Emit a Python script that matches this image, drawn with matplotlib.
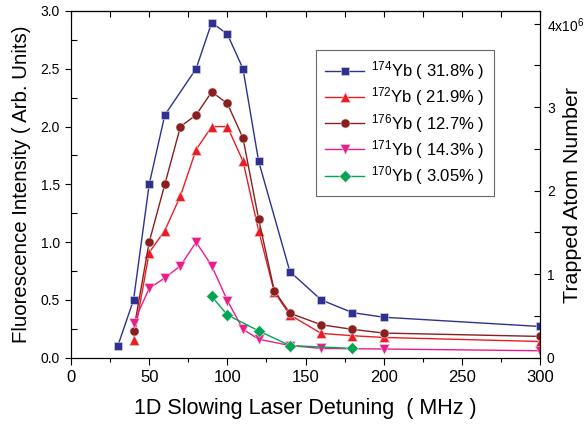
import matplotlib
matplotlib.use("Agg")
import matplotlib.pyplot as plt
from matplotlib.ticker import MultipleLocator, FixedLocator

plt.rcParams['font.family'] = ['Liberation Sans', 'DejaVu Sans']
plt.rcParams['mathtext.fontset'] = 'custom'
plt.rcParams['mathtext.rm'] = 'Liberation Sans'
plt.rcParams['mathtext.it'] = 'Liberation Sans'

# data
x174 = [30, 40, 50, 60, 80, 90, 100, 110, 120, 140, 160, 180, 200, 300]
y174 = [0.105, 0.5, 1.5, 2.1, 2.5, 2.9, 2.8, 2.5, 1.7, 0.745, 0.5, 0.39, 0.35, 0.27]
x172 = [40, 50, 60, 70, 80, 90, 100, 110, 120, 130, 140, 160, 180, 200, 300]
y172 = [0.155, 0.91, 1.1, 1.4, 1.8, 2.0, 2.0, 1.7, 1.1, 0.57, 0.37, 0.21, 0.19, 0.175, 0.14]
x176 = [40, 50, 60, 70, 80, 90, 100, 110, 120, 130, 140, 160, 180, 200, 300]
y176 = [0.23, 1.0, 1.5, 2.0, 2.1, 2.3, 2.2, 1.9, 1.2, 0.58, 0.385, 0.285, 0.245, 0.213, 0.184]
x171 = [40, 50, 60, 70, 80, 90, 100, 110, 120, 140, 160, 200, 300]
y171 = [0.3, 0.6, 0.69, 0.795, 1.0, 0.795, 0.494, 0.246, 0.16, 0.105, 0.08, 0.075, 0.06]
x170 = [90, 100, 120, 140, 180]
y170 = [0.53, 0.37, 0.232, 0.105, 0.08]

labels = [r'$^{174}$Yb ( 31.8% )', r'$^{172}$Yb ( 21.9% )', r'$^{176}$Yb ( 12.7% )',
          r'$^{171}$Yb ( 14.3% )', r'$^{170}$Yb ( 3.05% )']
right_ticks = [0, 1, 2, 3, 4]
right_labels = ['0', '1', '2', '3', r'4x10$^6$']

fig = plt.figure(figsize=(5.84, 4.28), dpi=100)
ax = fig.add_axes([0.1216, 0.1643, 0.8031, 0.8100])

series = [
    (x174, y174, '#2E3192', 's', 6.0),
    (x172, y172, '#ED1C24', '^', 7.0),
    (x176, y176, '#8B1E1E', 'o', 6.5),
    (x171, y171, '#EC1C8C', 'v', 7.0),
    (x170, y170, '#00A651', 'D', 6.0),
]
for (xs, ys, c, m, ms), lab in zip(series, labels):
    ax.plot(xs, ys, color=c, marker=m, markersize=ms, lw=1.0,
            mec='#dddddd', mew=0.4, mfc=c, label=lab)

ax.set_xlim(0, 300)
ax.set_ylim(0, 3.0)
ax.xaxis.set_major_locator(MultipleLocator(50))
ax.xaxis.set_minor_locator(MultipleLocator(25))
ax.yaxis.set_major_locator(MultipleLocator(0.5))
ax.yaxis.set_minor_locator(MultipleLocator(0.25))
ax.yaxis.set_major_formatter(matplotlib.ticker.FormatStrFormatter('%.1f'))
ax.tick_params(axis='x', which='major', direction='out', length=5, labelsize=12, width=0.8, pad=4)
ax.tick_params(axis='x', which='minor', direction='out', length=3, width=0.8)
ax.tick_params(axis='y', which='major', direction='out', length=4, labelsize=10, width=0.8, pad=4)
ax.tick_params(axis='y', which='minor', direction='in', length=4, width=0.8)
ax.tick_params(right=False)
for s in ax.spines.values():
    s.set_linewidth(0.8)

top = ax.secondary_xaxis('top')
top.xaxis.set_major_locator(MultipleLocator(50))
top.xaxis.set_minor_locator(MultipleLocator(25))
top.tick_params(which='both', direction='in', length=4, labeltop=False, width=0.8)
top.set_xticklabels([])

ax2 = ax.twinx()
ax2.set_ylim(0, 3.0 * 4 / 2.89)
ax2.yaxis.set_major_locator(FixedLocator(right_ticks))
ax2.set_yticklabels(right_labels)
ax2.yaxis.set_minor_locator(MultipleLocator(0.5))
ax2.tick_params(axis='y', which='both', direction='in', length=4, labelsize=10, width=0.8, pad=5)

ax.set_xlabel('1D Slowing Laser Detuning  ( MHz )', fontsize=15.5)
ax.xaxis.set_label_coords(0.5, -0.115)
ax.set_ylabel('Fluorescence Intensity ( Arb. Units)', fontsize=14.7)
ax.yaxis.set_label_coords(-0.085, 0.5)
ax2.set_ylabel('Trapped Atom Number', fontsize=15.4)
ax2.yaxis.set_label_coords(1.05, 0.47)

leg = ax.legend(loc='upper left', bbox_to_anchor=(0.5224, 0.8875), fontsize=12,
                frameon=True, fancybox=False, edgecolor='#444444',
                handlelength=2.35, handletextpad=0.42, labelspacing=0.2,
                borderpad=0.55, borderaxespad=0)
leg.get_frame().set_linewidth(0.8)

fig.savefig('out.png', dpi=100)
